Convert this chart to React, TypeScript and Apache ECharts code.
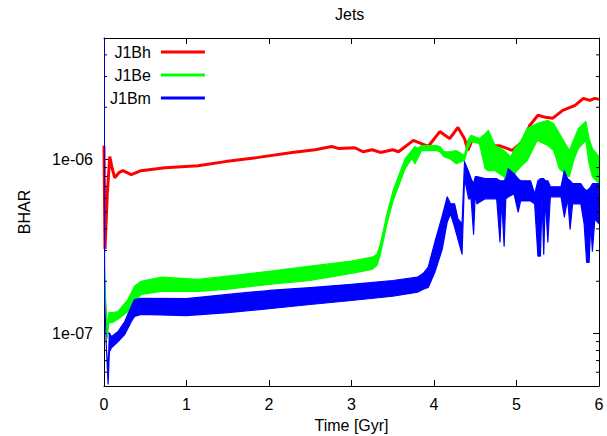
import React, { useEffect, useRef } from 'react';
import * as echarts from 'echarts';

const seriesNames = ['J1Bh', 'J1Be', 'J1Bm'];
const seriesColors = ['#ff0000', '#00ff00', '#0000ff'];
const xTickMin = 0;
const xTickMax = 6;
const xTickStep = 1;
const yMin = 5e-8;
const yMax = 5e-6;
const yTickValues = [1e-7, 1e-6];
const yTickLabels = ['1e-07', '1e-06'];
const yMinorTicks = [6e-8, 7e-8, 8e-8, 9e-8, 2e-7, 3e-7, 4e-7, 5e-7, 6e-7, 7e-7, 8e-7, 9e-7, 2e-6, 3e-6, 4e-6];

// J1Bh: [time, BHAR]
const j1bhLine: [number, number][] = [
  [0, 1.2e-6], [0.012, 3.06e-7], [0.04, 6.4e-7], [0.07, 1.04e-6], [0.1, 8.87e-7], [0.13, 7.87e-7],
  [0.18, 8.41e-7], [0.23, 8.64e-7], [0.33, 8.19e-7], [0.45, 8.64e-7], [0.74, 8.99e-7], [1.14, 9.23e-7],
  [1.47, 9.74e-7], [1.87, 1.03e-6], [2.28, 1.10e-6], [2.56, 1.14e-6], [2.76, 1.19e-6], [2.84, 1.16e-6],
  [3.04, 1.17e-6], [3.14, 1.11e-6], [3.25, 1.14e-6], [3.35, 1.10e-6], [3.5, 1.14e-6], [3.57, 1.11e-6],
  [3.75, 1.29e-6], [3.93, 1.19e-6], [4.07, 1.45e-6], [4.19, 1.32e-6], [4.29, 1.53e-6], [4.37, 1.32e-6],
  [4.41, 1.13e-6], [4.47, 1.32e-6], [4.52, 1.32e-6], [4.58, 1.20e-6], [4.8, 1.20e-6], [4.95, 1.13e-6],
  [5.07, 1.27e-6], [5.16, 1.57e-6], [5.26, 1.80e-6], [5.35, 1.75e-6], [5.44, 1.73e-6], [5.56, 1.92e-6],
  [5.71, 2.05e-6], [5.81, 2.25e-6], [5.89, 2.19e-6], [5.95, 2.25e-6], [6.0, 2.22e-6],
];

// J1Be: [time, low edge, high edge] of the oscillating band
const j1beBand: [number, number, number][] = [
  [0, 2.86e-7, 2.86e-7], [0.02, 1.57e-7, 1.57e-7], [0.04, 9.48e-8, 1.10e-7], [0.06, 1.158e-7, 1.32e-7],
  [0.1, 1.16e-7, 1.32e-7], [0.17, 1.21e-7, 1.34e-7], [0.29, 1.34e-7, 1.57e-7], [0.37, 1.51e-7, 1.87e-7],
  [0.45, 1.68e-7, 2.00e-7], [0.7, 1.75e-7, 2.11e-7], [1.14, 1.75e-7, 2.05e-7],
  [1.5, 1.80e-7, 2.14e-7], [2.0, 1.92e-7, 2.28e-7], [2.5, 2.02e-7, 2.44e-7], [3.0, 2.22e-7, 2.61e-7],
  [3.25, 2.34e-7, 2.75e-7], [3.31, 2.47e-7, 2.86e-7], [3.35, 2.86e-7, 3.27e-7], [3.43, 4.27e-7, 4.87e-7],
  [3.5, 5.72e-7, 6.53e-7], [3.59, 7.46e-7, 8.52e-7], [3.65, 8.87e-7, 1.013e-6],
  [3.73, 1.013e-6, 1.127e-6], [3.77, 9.48e-7, 1.19e-6], [3.8, 1.013e-6, 1.158e-6], [3.85, 1.127e-6, 1.205e-6],
  [4.03, 1.127e-6, 1.205e-6], [4.07, 1.11e-6, 1.19e-6], [4.12, 1.04e-6, 1.11e-6], [4.19, 1.013e-6, 1.11e-6],
  [4.27, 9.48e-7, 1.127e-6], [4.33, 9.74e-7, 1.083e-6], [4.37, 9.87e-7, 1.055e-6], [4.41, 1.158e-6, 1.29e-6],
  [4.45, 1.27e-6, 1.38e-6], [4.55, 1.24e-6, 1.32e-6], [4.62, 8.87e-7, 1.41e-6], [4.66, 8.64e-7, 1.47e-6],
  [4.74, 8.64e-7, 1.205e-6], [4.85, 7.98e-7, 1.127e-6], [4.93, 6.36e-7, 1.04e-6], [4.98, 8.30e-7, 1.158e-6],
  [5.05, 9.11e-7, 1.27e-6], [5.13, 9.87e-7, 1.51e-6], [5.25, 1.29e-6, 1.61e-6], [5.38, 1.205e-6, 1.68e-6],
  [5.45, 1.127e-6, 1.61e-6], [5.52, 8.87e-7, 1.41e-6], [5.64, 7.98e-7, 1.127e-6], [5.7, 1.013e-6, 1.32e-6],
  [5.75, 1.158e-6, 1.51e-6], [5.84, 1.29e-6, 1.66e-6], [5.88, 9.48e-7, 1.32e-6], [5.92, 7.98e-7, 1.158e-6],
  [6.0, 7.27e-7, 1.04e-6],
];

// J1Bm: [time, low edge, high edge]
const j1bmBand: [number, number, number][] = [
  [0, 8e-6, 8e-6], [0.008, 1.57e-7, 1.57e-7], [0.03, 8.08e-8, 8.08e-8], [0.05, 5.14e-8, 6.19e-8],
  [0.065, 7.87e-8, 1.01e-7], [0.09, 8.30e-8, 9.61e-8], [0.17, 8.99e-8, 1.028e-7], [0.25, 9.87e-8, 1.17e-7],
  [0.33, 1.17e-7, 1.43e-7], [0.37, 1.254e-7, 1.57e-7], [0.45, 1.29e-7, 1.593e-7], [1.0, 1.27e-7, 1.59e-7],
  [1.5, 1.32e-7, 1.68e-7], [2.0, 1.39e-7, 1.77e-7], [2.5, 1.47e-7, 1.84e-7], [3.0, 1.55e-7, 1.92e-7],
  [3.5, 1.64e-7, 2.02e-7], [3.8, 1.73e-7, 2.11e-7], [3.87, 1.80e-7, 2.22e-7], [3.93, 1.84e-7, 2.41e-7],
  [4.01, 2.25e-7, 3.36e-7], [4.10, 3.06e-7, 4.75e-7], [4.16, 4.38e-7, 6.11e-7], [4.20, 4.87e-7, 5.57e-7],
  [4.25, 4.10e-7, 5.57e-7], [4.29, 3.49e-7, 4.56e-7], [4.34, 2.86e-7, 4.27e-7], [4.37, 7.77e-7, 9.74e-7],
  [4.42, 5.95e-7, 8.52e-7], [4.45, 5.95e-7, 7.77e-7], [4.48, 3.73e-7, 7.27e-7], [4.5, 6.36e-7, 7.98e-7],
  [4.52, 5.57e-7, 7.98e-7], [4.62, 5.95e-7, 7.77e-7], [4.76, 5.95e-7, 7.77e-7],
  [4.8, 3.36e-7, 7.56e-7], [4.82, 5.95e-7, 7.56e-7], [4.85, 3.18e-7, 7.56e-7], [4.87, 5.95e-7, 7.77e-7],
  [4.9, 6.11e-7, 8.87e-7], [4.97, 6.36e-7, 8.30e-7], [5.02, 5.00e-7, 7.77e-7], [5.05, 5.79e-7, 7.56e-7],
  [5.17, 5.79e-7, 7.56e-7], [5.22, 5.57e-7, 6.36e-7], [5.26, 2.79e-7, 7.56e-7], [5.29, 2.79e-7, 7.77e-7],
  [5.31, 5.95e-7, 7.77e-7], [5.33, 2.86e-7, 7.77e-7], [5.35, 5.95e-7, 7.56e-7], [5.38, 3.36e-7, 7.56e-7],
  [5.41, 6.11e-7, 6.98e-7], [5.54, 6.11e-7, 6.98e-7], [5.58, 4.68e-7, 8.64e-7], [5.62, 5.95e-7, 7.77e-7],
  [5.65, 3.99e-7, 7.56e-7], [5.68, 5.57e-7, 7.27e-7], [5.78, 5.57e-7, 7.27e-7], [5.82, 4.27e-7, 6.80e-7],
  [5.85, 2.57e-7, 6.62e-7], [5.88, 2.57e-7, 6.80e-7], [5.9, 4.27e-7, 6.98e-7], [5.92, 2.98e-7, 7.27e-7],
  [5.95, 4.56e-7, 7.27e-7], [6.0, 4.27e-7, 7.27e-7],
];

const FONT = "'Liberation Sans', Arial, sans-serif";
const TEXT = '#000';

function bandRenderer(band: [number, number, number][], color: string) {
  return (params: any, api: any) => {
    if (params.dataIndex !== 0) return null;
    const upper = band.map((d) => api.coord([d[0], d[2]]));
    const lower = band.map((d) => api.coord([d[0], d[1]])).reverse();
    return {
      type: 'polygon',
      shape: { points: upper.concat(lower) },
      style: { fill: color, stroke: color, lineWidth: 1.2, lineJoin: 'round' },
      silent: true,
    };
  };
}

function minorTickRenderer(params: any, api: any) {
  const v = api.value(1);
  const l = api.coord([xTickMin, v]);
  const r = api.coord([xTickMax, v]);
  return {
    type: 'group',
    children: [
      { type: 'line', shape: { x1: l[0], y1: l[1], x2: l[0] + 3, y2: l[1] }, style: { stroke: '#000', lineWidth: 1 } },
      { type: 'line', shape: { x1: r[0] - 3, y1: r[1], x2: r[0], y2: r[1] }, style: { stroke: '#000', lineWidth: 1 } },
    ],
    silent: true,
  };
}

function yLabel(v: number) {
  const i = yTickValues.findIndex((t) => Math.abs(Math.log10(v) - Math.log10(t)) < 1e-6);
  return i >= 0 ? yTickLabels[i] : '';
}

export default function App() {
  const ref = useRef<HTMLDivElement>(null);
  useEffect(() => {
    if (!ref.current) return;
    const chart = echarts.init(ref.current, undefined, { renderer: 'svg' });
    const axisLine = { show: true, onZero: false, lineStyle: { color: '#000', width: 1 } };
    const axisTick = { show: true, inside: true, length: 6, lineStyle: { color: '#000', width: 1 } };
    const labelStyle = { color: TEXT, fontFamily: FONT, fontSize: 16 };
    chart.setOption({
      animation: false,
      backgroundColor: '#fff',
      title: {
        text: 'Jets',
        left: 335,
        top: 6,
        padding: 0,
        textStyle: { color: TEXT, fontFamily: FONT, fontSize: 16, fontWeight: 'normal' },
      },
      legend: {
        data: seriesNames.map((n, i) => ({ name: n, itemStyle: { color: seriesColors[i] } })),
        orient: 'vertical',
        left: 110,
        top: 44,
        padding: 0,
        align: 'right',
        icon: 'rect',
        itemWidth: 44,
        itemHeight: 3,
        itemGap: 7,
        selectedMode: false,
        textStyle: { color: TEXT, fontFamily: FONT, fontSize: 16, width: 40, align: 'right', padding: [0, 5, 0, 0] },
      },
      grid: { left: 104, right: 8, top: 38, bottom: 50, outerBoundsMode: 'none' },
      xAxis: [
        {
          type: 'value', min: xTickMin, max: xTickMax, interval: xTickStep, position: 'bottom',
          axisLine, axisTick, splitLine: { show: false },
          axisLabel: { ...labelStyle, margin: 10 },
          name: 'Time [Gyr]', nameLocation: 'middle', nameGap: 31, nameTextStyle: labelStyle,
        },
        {
          type: 'value', min: xTickMin, max: xTickMax, interval: xTickStep, position: 'top',
          axisLine, axisTick, splitLine: { show: false }, axisLabel: { show: false },
        },
      ],
      yAxis: [
        {
          type: 'log', logBase: 10, min: yMin, max: yMax, position: 'left',
          axisLine, axisTick, splitLine: { show: false },
          axisLabel: { ...labelStyle, margin: 11, formatter: yLabel, showMinLabel: false, showMaxLabel: false },
          name: 'BHAR', nameLocation: 'middle', nameRotate: 90, nameGap: 72, nameTextStyle: labelStyle,
        },
        {
          type: 'log', logBase: 10, min: yMin, max: yMax, position: 'right',
          axisLine, axisTick, splitLine: { show: false }, axisLabel: { show: false },
        },
      ],
      series: [
        {
          type: 'line', name: seriesNames[0], data: j1bhLine, symbol: 'none', showSymbol: false,
          lineStyle: { color: seriesColors[0], width: 3 }, itemStyle: { color: seriesColors[0] },
          clip: true, silent: true, z: 2,
        },
        {
          type: 'custom', name: seriesNames[1], coordinateSystem: 'cartesian2d',
          data: j1beBand, encode: { x: 0, y: [1, 2] },
          renderItem: bandRenderer(j1beBand, seriesColors[1]),
          itemStyle: { color: seriesColors[1] }, clip: true, silent: true, z: 3,
        },
        {
          type: 'custom', name: seriesNames[2], coordinateSystem: 'cartesian2d',
          data: j1bmBand, encode: { x: 0, y: [1, 2] },
          renderItem: bandRenderer(j1bmBand, seriesColors[2]),
          itemStyle: { color: seriesColors[2] }, clip: true, silent: true, z: 4,
        },
        {
          type: 'custom', name: 'minorTicks', coordinateSystem: 'cartesian2d',
          data: yMinorTicks.map((v) => [xTickMin, v]), encode: { x: 0, y: 1 },
          renderItem: minorTickRenderer, silent: true, z: 10,
        },
      ],
    });
    return () => chart.dispose();
  }, []);
  return <div ref={ref} style={{ position: 'fixed', left: 0, top: 0, width: 607, height: 436 }} />;
}
